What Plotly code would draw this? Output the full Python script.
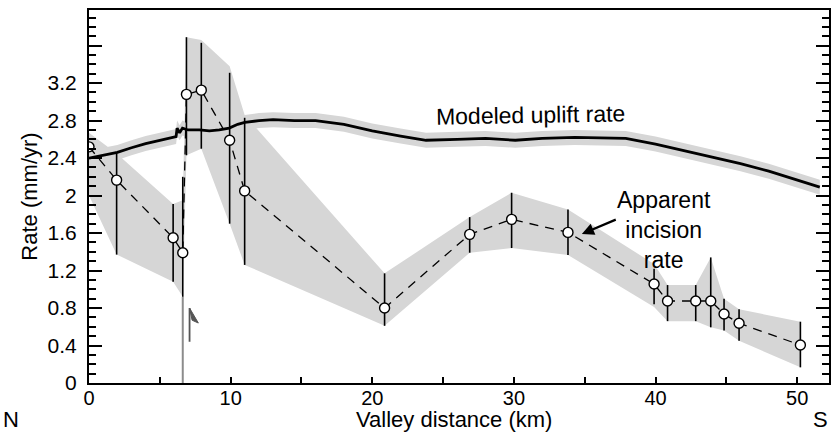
import plotly.graph_objects as go

# Modeled uplift rate along the valley (km, mm/yr)
uplift_x = [0, 1, 2, 3, 4, 5, 6.0, 6.15, 6.22, 6.4, 6.6, 7.0, 7.8, 8.5, 9.2, 9.9, 10.5, 11.0,
            12.0, 13.0, 14.5, 16.0, 18.0, 20.0, 22.0, 23.8, 26.0, 28.0, 30.1, 32.0, 34.3,
            37.9, 40.0, 42.0, 44.4, 46.0, 48.0, 50.0, 51.6]
uplift_y = [2.40, 2.43, 2.46, 2.51, 2.555, 2.59, 2.625, 2.63, 2.72, 2.67, 2.72, 2.70, 2.70,
            2.69, 2.70, 2.72, 2.76, 2.78, 2.80, 2.81, 2.80, 2.80, 2.76, 2.69, 2.635, 2.59,
            2.60, 2.61, 2.59, 2.61, 2.62, 2.61, 2.55, 2.48, 2.40, 2.34, 2.26, 2.17, 2.09]
uplift_err = 0.08

# Apparent incision rate with error bars
inc_x = [0, 1.95, 5.94, 6.62, 6.88, 7.93, 9.93, 10.99, 20.87, 26.88, 29.84, 33.82,
         39.9, 40.85, 42.84, 43.9, 44.84, 45.9, 50.23]
inc_y = [2.52, 2.165, 1.55, 1.39, 3.08, 3.125, 2.59, 2.05, 0.80, 1.586, 1.746, 1.607,
         1.056, 0.875, 0.875, 0.875, 0.736, 0.637, 0.405]
inc_hi = [2.52, 2.45, 1.91, 2.2, 3.69, 3.63, 3.31, 2.83, 1.17, 1.77, 2.03, 1.85,
          1.22, 1.045, 1.045, 1.34, 0.90, 0.786, 0.654]
inc_lo = [2.52, 1.37, 1.08, 0.92, 2.43, 2.50, 1.70, 1.26, 0.61, 1.39, 1.44, 1.365,
          0.84, 0.66, 0.66, 0.594, 0.56, 0.45, 0.167]

# Uncertainty envelope of the incision rate
band_hi = [2.67, 2.45, 1.91, 1.95, 3.69, 3.66, 3.38, 2.86, 1.17, 1.77, 2.03, 1.85,
           1.27, 1.045, 1.045, 1.34, 0.90, 0.786, 0.654]
band_lo = [2.0, 1.37, 1.08, 0.92, 2.43, 2.50, 1.70, 1.26, 0.61, 1.39, 1.44, 1.365,
           0.81, 0.66, 0.66, 0.594, 0.56, 0.45, 0.167]

fault_x = 6.62
fault_top = 0.92

x_ticks = [0, 5, 10, 15, 20, 25, 30, 35, 40, 45, 50]
x_labels = ["0", "", "10", "", "20", "", "30", "", "40", "", "50"]
y_ticks = [0, 0.4, 0.8, 1.2, 1.6, 2.0, 2.4, 2.8, 3.2, 3.6]
y_labels = ["0", "0.4", "0.8", "1.2", "1.6", "2", "2.4", "2.8", "3.2", ""]

FONT = "Liberation Sans, Arial, sans-serif"
GRAY = "#d6d6d6"
TICK_SIZE = 21
XTICK_SIZE = 20
TITLE_SIZE = 22
NOTE_SIZE = 23

fig = go.Figure()

# incision envelope polygon
fig.add_trace(go.Scatter(
    x=inc_x + inc_x[::-1], y=band_hi + band_lo[::-1],
    fill="toself", fillcolor=GRAY, line=dict(width=0), mode="lines",
    hoverinfo="skip", showlegend=False))

# uplift envelope
fig.add_trace(go.Scatter(
    x=uplift_x, y=[v + uplift_err for v in uplift_y], mode="lines",
    line=dict(width=0), hoverinfo="skip", showlegend=False))
fig.add_trace(go.Scatter(
    x=uplift_x, y=[v - uplift_err for v in uplift_y], mode="lines",
    line=dict(width=0), fill="tonexty", fillcolor=GRAY,
    hoverinfo="skip", showlegend=False))

# fault trace
fig.add_trace(go.Scatter(
    x=[fault_x, fault_x], y=[0, fault_top], mode="lines",
    line=dict(color="#8c8c8c", width=2), hoverinfo="skip", showlegend=False))

# modeled uplift rate
fig.add_trace(go.Scatter(
    x=uplift_x, y=uplift_y, mode="lines",
    line=dict(color="black", width=2.8), showlegend=False))

# incision rate: dashed connector, error bars, markers
fig.add_trace(go.Scatter(
    x=inc_x, y=inc_y, mode="lines",
    line=dict(color="black", width=1.3, dash="9px,7px"), showlegend=False))
fig.add_trace(go.Scatter(
    x=inc_x, y=inc_y, mode="markers",
    marker=dict(size=10, color="white", line=dict(color="black", width=1.4)),
    error_y=dict(type="data", symmetric=False,
                 array=[h - v for h, v in zip(inc_hi, inc_y)],
                 arrayminus=[v - l for v, l in zip(inc_y, inc_lo)],
                 color="black", thickness=1.6, width=0),
    showlegend=False))

# fault motion half-arrow
fx, fy0, fy1 = 7.1, 0.44, 0.80
shapes = [
    dict(type="line", xref="x", yref="y", x0=fx, x1=fx, y0=fy0, y1=fy1,
         line=dict(color="#555555", width=1.8)),
    dict(type="path", xref="x", yref="y",
         path=f"M {fx},{fy1} L {fx + 0.62},{fy1 - 0.16} L {fx + 0.18},{fy1 - 0.13} Z",
         fillcolor="#555555", line=dict(color="#555555", width=1)),
]

W, H = 833, 434
L, R, T, B = 89, 2, 10, 51
pw, ph = W - L - R, H - T - B


def px_to_paper(px, py):
    return (px - L) / pw, (H - B - py) / ph


nx, ny = px_to_paper(11, 419)
sx, sy = px_to_paper(822, 419)
tx, ty = px_to_paper(455, 419)

annotations = [
    dict(x=31.2, y=2.86, xref="x", yref="y", text="Modeled uplift rate",
         showarrow=False, textangle=-1,
         font=dict(family=FONT, size=NOTE_SIZE, color="black")),
    dict(x=40.6, y=1.63, xref="x", yref="y", text="Apparent<br>incision<br>rate",
         showarrow=False, align="center",
         font=dict(family=FONT, size=NOTE_SIZE, color="black")),
    dict(x=34.8, y=1.59, xref="x", yref="y", ax=37.3, ay=1.75, axref="x", ayref="y",
         text="", showarrow=True, arrowhead=2, arrowsize=1.1, arrowwidth=2.2,
         arrowcolor="black"),
    dict(x=tx, y=ty, xref="paper", yref="paper", text="Valley distance (km)",
         showarrow=False, xanchor="center", yanchor="middle",
         font=dict(family=FONT, size=TITLE_SIZE, color="black")),
    dict(x=nx, y=ny, xref="paper", yref="paper", text="N", showarrow=False,
         xanchor="center", yanchor="middle",
         font=dict(family=FONT, size=TITLE_SIZE, color="black")),
    dict(x=sx, y=sy, xref="paper", yref="paper", text="S", showarrow=False,
         xanchor="center", yanchor="middle",
         font=dict(family=FONT, size=TITLE_SIZE, color="black")),
]

fig.update_layout(
    width=W, height=H,
    margin=dict(l=L, r=R, t=T, b=B),
    paper_bgcolor="white", plot_bgcolor="white",
    font=dict(family=FONT, size=TICK_SIZE, color="black"),
    shapes=shapes, annotations=annotations,
    xaxis=dict(range=[0, 52.25], tickvals=x_ticks, ticktext=x_labels,
               ticks="inside", ticklen=6, tickwidth=2, tickcolor="black",
               ticklabelstandoff=-4,
               showline=True, linecolor="black", linewidth=2, mirror=True,
               showgrid=False, zeroline=False,
               tickfont=dict(family=FONT, size=XTICK_SIZE)),
    yaxis=dict(range=[0, 3.98], tickvals=y_ticks, ticktext=y_labels,
               ticks="inside", ticklen=13, tickwidth=2, tickcolor="black",
               ticklabelstandoff=6,
               minor=dict(dtick=0.1, tick0=0, ticks="inside", ticklen=7,
                          tickwidth=2, tickcolor="black"),
               showline=True, linecolor="black", linewidth=2, mirror="ticks",
               showgrid=False, zeroline=False,
               title=dict(text="Rate (mm/yr)", standoff=4,
                          font=dict(family=FONT, size=TITLE_SIZE)),
               tickfont=dict(family=FONT, size=TICK_SIZE)),
)

fig.write_html("out.html")
